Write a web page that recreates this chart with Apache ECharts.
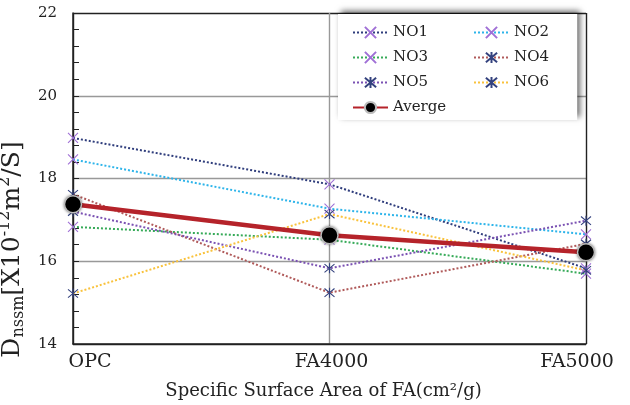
<!DOCTYPE html>
<html>
<head>
<meta charset="utf-8">
<script src="https://cdn.jsdelivr.net/npm/echarts@6/dist/echarts.min.js"></script>
<style>html,body{margin:0;padding:0;background:#fff}#c{width:630px;height:405px}</style>
</head>
<body>
<div id="c"></div>
<script>
var categories = ['OPC', 'FA4000', 'FA5000'];
var no1 = [18.98, 17.86, 15.83];
var no2 = [18.46, 17.27, 16.65];
var no3 = [16.83, 16.52, 15.70];
var no4 = [17.62, 15.24, 16.42];
var no5 = [17.20, 15.83, 16.98];
var no6 = [15.22, 17.14, 15.78];
var average = [17.38, 16.63, 16.22];
var yTicks = [14, 16, 18, 20, 22];

var FONT = 'DejaVu Serif';
var XSYM = 'path://M0,0L10,10M10,0L0,10';
var STAR = 'path://M0,0L10,10M10,0L0,10M5,-1L5,11';

function dotted(name, data, color, sym, symColor) {
  return {
    name: name, type: 'line', data: data,
    symbol: sym, symbolSize: 10, showSymbol: true,
    lineStyle: { color: color, width: 2, type: [2, 2] },
    itemStyle: { color: symColor, borderColor: symColor, borderWidth: 1.1 },
    emphasis: { disabled: true }
  };
}

var chart = echarts.init(document.getElementById('c'));
chart.setOption({
  animation: false,
  backgroundColor: '#fff',
  grid: { left: 73, right: 44, top: 13, bottom: 61, outerBoundsMode: 'none' },
  legend: [{
    data: ['NO1', 'NO3', 'NO5', 'Averge'],
    orient: 'vertical', left: 338, top: 14,
    padding: [11, 131, 5, 14],
    itemGap: 10, itemWidth: 35, itemHeight: 14,
    backgroundColor: '#fff',
    shadowBlur: 6, shadowColor: 'rgba(0,0,0,0.6)', shadowOffsetX: 3, shadowOffsetY: -3,
    textStyle: { fontFamily: FONT, fontSize: 15, color: '#222', lineHeight: 14 },
    z: 5
  }, {
    data: ['NO2', 'NO4', 'NO6'],
    orient: 'vertical', left: 473, top: 25,
    padding: 0,
    itemGap: 10, itemWidth: 35, itemHeight: 14,
    textStyle: { fontFamily: FONT, fontSize: 15, color: '#222', lineHeight: 14 },
    z: 6
  }],
  xAxis: {
    type: 'category', data: categories, boundaryGap: false,
    axisLine: { lineStyle: { color: '#222', width: 1.5 } },
    axisTick: { show: false },
    splitLine: { show: true, lineStyle: { color: ['#222', '#999', '#222'], width: 1.4 } },
    axisLabel: {
      margin: 9, color: '#222', fontFamily: FONT, fontSize: 19,
      formatter: function (v, i) {
        return i === 0 ? '{l|' + v + '}' : (i === 2 ? '{r|' + v + '}' : '{c|' + v + '}');
      },
      rich: {
        l: { fontFamily: FONT, fontSize: 19, color: '#222', padding: [0, 0, 0, 34] },
        c: { fontFamily: FONT, fontSize: 19, color: '#222', padding: [0, 0, 0, 4] },
        r: { fontFamily: FONT, fontSize: 19, color: '#222', padding: [0, 18, 0, 0] }
      }
    },
    name: 'Specific Surface Area of FA(cm²/g)',
    nameLocation: 'middle', nameGap: 38,
    nameTextStyle: { fontFamily: FONT, fontSize: 18, color: '#222', padding: [0, 12, 0, 0] }
  },
  yAxis: {
    type: 'value', min: yTicks[0], max: yTicks[yTicks.length - 1], interval: 2,
    axisLine: { show: true, lineStyle: { color: '#222', width: 1.5 } },
    axisTick: { show: true, inside: true, length: 6, lineStyle: { color: '#222' } },
    minorTick: { show: true, splitNumber: 5, length: 6, lineStyle: { color: '#222', width: 1 } },
    splitLine: { show: true, lineStyle: { color: ['#222', '#999', '#999', '#999', '#222'], width: 1.4 } },
    axisLabel: { margin: 16, color: '#222', fontFamily: FONT, fontSize: 15 },
    name: '{n|D}{sub|nssm}{n|[X10}{sup|-12}{n|m}{sup|2}{n|/S]}',
    nameLocation: 'middle', nameRotate: 90, nameGap: 27,
    nameTextStyle: {
      fontFamily: FONT, fontSize: 25, color: '#222',
      padding: [0, 142, 0, 0],
      rich: {
        n: { fontFamily: FONT, fontSize: 25, color: '#222', lineHeight: 30 },
        sub: { fontFamily: FONT, fontSize: 16, color: '#222', lineHeight: 16, verticalAlign: 'bottom' },
        sup: { fontFamily: FONT, fontSize: 16, color: '#222', lineHeight: 16, verticalAlign: 'top' }
      }
    }
  },
  series: [
    dotted('NO1', no1, '#2f3d7c', XSYM, '#a070d6'),
    dotted('NO2', no2, '#2db4ea', XSYM, '#a070d6'),
    dotted('NO3', no3, '#36aa58', XSYM, '#a070d6'),
    dotted('NO4', no4, '#b05a5a', STAR, '#34427e'),
    dotted('NO5', no5, '#7b52b3', STAR, '#34427e'),
    dotted('NO6', no6, '#f9c23c', STAR, '#34427e'),
    {
      name: 'Averge', type: 'line', data: average,
      symbol: 'circle', symbolSize: 17,
      lineStyle: { color: '#b5232a', width: 4.5 },
      itemStyle: { color: '#000', borderColor: '#bbb', borderWidth: 1.5, shadowBlur: 3, shadowColor: 'rgba(0,0,0,0.4)' },
      emphasis: { disabled: true },
      z: 3
    }
  ]
});
</script>
</body>
</html>
